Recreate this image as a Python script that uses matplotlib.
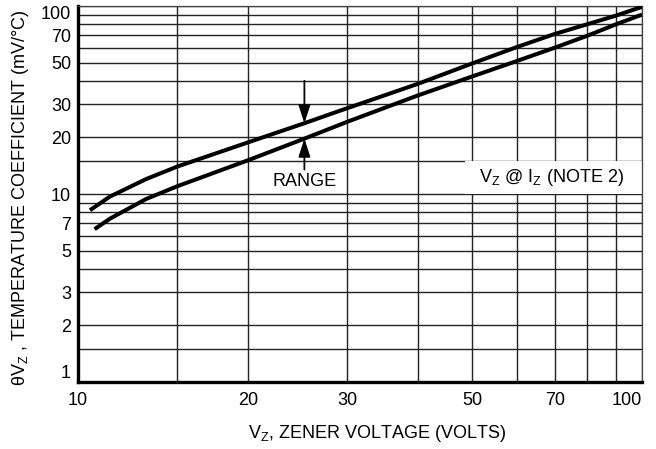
import matplotlib
matplotlib.use("Agg")
import matplotlib.pyplot as plt
from matplotlib.ticker import FixedLocator, NullFormatter

plt.rcParams["font.family"] = ["Liberation Sans", "DejaVu Sans"]
plt.rcParams["mathtext.fontset"] = "custom"
plt.rcParams["mathtext.rm"] = "Liberation Sans"
plt.rcParams["mathtext.it"] = "Liberation Sans"

# curve readings (Vz in volts, temp. coefficient in mV/°C)
upper_vz = [10.5, 11.4, 13.2, 15.0, 20.0, 25.2, 28.9, 40.0, 50.0, 60.0, 70.0, 80.0, 90.0, 100.0]
upper_tc = [8.2, 9.7, 12.0, 14.0, 18.8, 23.8, 27.5, 38.5, 49.5, 60.5, 71.0, 80.0, 89.0, 99.0]
lower_vz = [10.7, 11.4, 13.2, 15.0, 20.0, 25.2, 30.0, 40.0, 50.0, 60.0, 70.0, 80.0, 90.0, 100.0]
lower_tc = [6.5, 7.4, 9.4, 11.0, 15.1, 19.7, 24.2, 33.4, 42.2, 51.0, 60.0, 69.5, 80.0, 90.0]

x_major = [10, 20, 30, 50, 70, 100]
x_minor = [15, 40, 60, 80, 90]
y_major = [1, 2, 3, 5, 7, 10, 20, 30, 50, 70, 100]
y_minor = [1.5, 4, 6, 8, 9, 15, 40, 60, 80, 90]

range_vz = 25.2
range_top = (40.0, 23.8)   # arrow from, arrow to
range_bot = (13.5, 19.7)
range_label_tc = 11.6
note_box_vz = (48.5, 100)
note_box_tc = (10, 15)
note_xy = (69, 12.2)

fig = plt.figure(figsize=(6.56, 4.49), dpi=100)
ax = fig.add_axes([0.1189, 0.1492, 0.8598, 0.8374])
ax.set_xscale("log")
ax.set_yscale("log")
ax.set_xlim(10, 100)
ax.set_ylim(1, 100)

ax.xaxis.set_major_locator(FixedLocator(x_major))
ax.xaxis.set_minor_locator(FixedLocator(x_minor))
ax.yaxis.set_major_locator(FixedLocator(y_major))
ax.yaxis.set_minor_locator(FixedLocator(y_minor))
ax.set_xticklabels([str(v) for v in x_major])
ax.set_yticklabels([str(v) for v in y_major])
ax.xaxis.set_minor_formatter(NullFormatter())
ax.yaxis.set_minor_formatter(NullFormatter())
ax.tick_params(which="both", length=0, labelsize=13)
ax.tick_params(axis="x", pad=7)
ax.tick_params(axis="y", pad=5)
for lab in ax.get_yticklabels():
    if lab.get_text() == "100":
        lab.set_va("top")
    elif lab.get_text() == "1":
        lab.set_va("bottom")
for lab in ax.get_xticklabels():
    if lab.get_text() == "100":
        lab.set_ha("right")

ax.set_axisbelow(True)
ax.grid(True, which="both", color="#222222", lw=1.0)

for side in ("left", "bottom"):
    ax.spines[side].set_linewidth(2.4)
for side in ("top", "right"):
    ax.spines[side].set_linewidth(0.9)
    ax.spines[side].set_color("#444444")

ax.fill_between(note_box_vz, note_box_tc[0], note_box_tc[1],
                color="white", lw=0, zorder=1)
ax.text(note_xy[0], note_xy[1], r"V$_{\rm Z}$ @ I$_{\rm Z}$ (NOTE 2)",
        ha="center", va="center", fontsize=13, zorder=4)

ax.plot(upper_vz, upper_tc, color="black", lw=2.9, solid_capstyle="butt",
        solid_joinstyle="round", zorder=3)
ax.plot(lower_vz, lower_tc, color="black", lw=2.9, solid_capstyle="butt",
        solid_joinstyle="round", zorder=3)

arrow = dict(arrowstyle="-|>,head_length=0.55,head_width=0.18",
             color="black", lw=1.3, mutation_scale=20, shrinkA=0, shrinkB=0)
ax.annotate("", xy=(range_vz, range_top[1]), xytext=(range_vz, range_top[0]),
            arrowprops=arrow, zorder=4)
ax.annotate("", xy=(range_vz, range_bot[1]), xytext=(range_vz, range_bot[0]),
            arrowprops=arrow, zorder=4)
ax.text(range_vz, range_label_tc, "RANGE", ha="center", va="center",
        fontsize=13, zorder=4)

ax.set_xlabel(r"V$_{\rm Z}$, ZENER VOLTAGE (VOLTS)", fontsize=13)
ax.xaxis.set_label_coords(0.53, -0.108)
ax.set_ylabel(r"$\theta$V$_{\rm Z}$ , TEMPERATURE COEFFICIENT (mV/°C)", fontsize=13)
ax.yaxis.set_label_coords(-0.083, 0.49)

fig.savefig("out.png", dpi=100)
